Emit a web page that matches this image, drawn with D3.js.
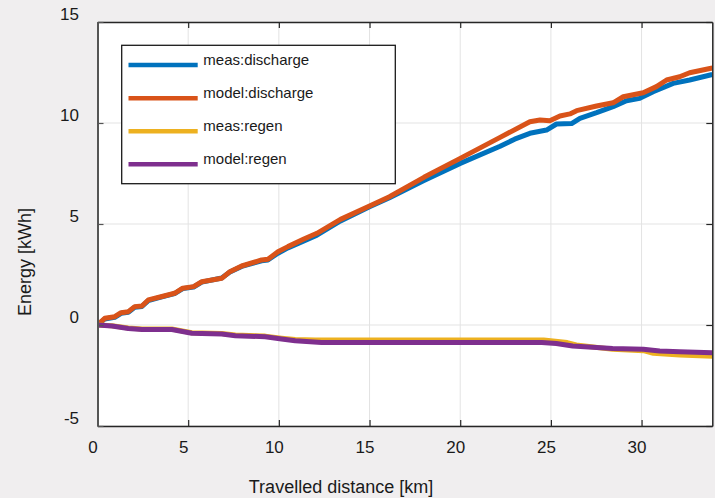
<!DOCTYPE html>
<html>
<head>
<meta charset="utf-8">
<script src="https://cdn.jsdelivr.net/npm/d3@7"></script>
<style>
  html, body { margin: 0; padding: 0; background: #f0eeef; }
  svg { display: block; }
  text { font-family: "Liberation Sans", Arial, Helvetica, sans-serif; fill: #1a1a1a; }
</style>
</head>
<body>
<svg id="chart" width="715" height="498"></svg>
<script>
// ---- data ----
const xTicks = [0, 5, 10, 15, 20, 25, 30];
const yTicks = [-5, 0, 5, 10, 15];
const xDomain = [0, 33.9];
const yDomain = [-5, 15];

const seriesNames = ["meas:discharge", "model:discharge", "meas:regen", "model:regen"];
const seriesColors = ["#0072BD", "#D95319", "#EDB120", "#7E2F8E"];

const measDischargeKm = [0, 0.4, 0.95, 1.3, 1.7, 2.05, 2.45, 2.8, 3.5, 4.25, 4.7, 5.3, 5.75, 6.85, 7.3, 7.95, 9.05, 9.4, 9.95, 10.5, 11.35, 12.1, 13.4, 15.0, 16.1, 18.0, 20.0, 22.2, 23.0, 23.84, 24.76, 25.31, 26.14, 26.6, 27.52, 28.43, 29.17, 29.9, 30.64, 31.74, 32.65, 33.9];
const measDischarge   = [0, 0.30, 0.38, 0.58, 0.63, 0.88, 0.92, 1.21, 1.38, 1.55, 1.80, 1.88, 2.12, 2.33, 2.62, 2.90, 3.18, 3.22, 3.55, 3.82, 4.15, 4.45, 5.15, 5.85, 6.30, 7.15, 8.00, 8.85, 9.20, 9.49, 9.65, 9.95, 9.97, 10.23, 10.51, 10.81, 11.10, 11.22, 11.55, 11.96, 12.13, 12.40];

const modelDischargeKm = [0, 0.4, 0.95, 1.3, 1.7, 2.05, 2.45, 2.8, 3.5, 4.25, 4.7, 5.3, 5.75, 6.85, 7.3, 7.95, 9.05, 9.4, 9.95, 10.5, 11.35, 12.1, 13.4, 15.0, 16.1, 18.0, 20.0, 22.2, 23.84, 24.4, 24.94, 25.5, 26.05, 26.42, 27.52, 28.43, 28.99, 30.09, 30.82, 31.38, 32.1, 32.65, 33.9];
const modelDischarge   = [0, 0.33, 0.41, 0.61, 0.66, 0.91, 0.94, 1.24, 1.40, 1.57, 1.82, 1.90, 2.14, 2.31, 2.64, 2.92, 3.22, 3.25, 3.63, 3.88, 4.24, 4.54, 5.23, 5.89, 6.35, 7.31, 8.25, 9.29, 10.06, 10.15, 10.11, 10.35, 10.45, 10.61, 10.84, 11.00, 11.30, 11.50, 11.80, 12.13, 12.29, 12.49, 12.72];

const measRegenKm = [0, 0.8, 1.7, 2.45, 4.1, 5.2, 6.85, 7.6, 9.25, 10.15, 10.9, 12.0, 24.6, 25.9, 26.4, 28.4, 30.1, 30.65, 32.1, 33.9];
const measRegen   = [0, -0.04, -0.15, -0.20, -0.20, -0.38, -0.42, -0.50, -0.55, -0.65, -0.72, -0.74, -0.74, -0.87, -0.99, -1.20, -1.27, -1.40, -1.49, -1.55];

const modelRegenKm = [0, 0.8, 1.7, 2.45, 4.1, 5.2, 6.85, 7.6, 9.25, 10.15, 10.9, 12.35, 24.5, 25.3, 26.2, 28.4, 30.1, 31.0, 32.1, 33.9];
const modelRegen   = [0, -0.05, -0.17, -0.22, -0.22, -0.41, -0.45, -0.53, -0.58, -0.69, -0.78, -0.87, -0.87, -0.92, -1.04, -1.16, -1.20, -1.29, -1.32, -1.37];

// ---- layout ----
const svg = d3.select("#chart");
const L = 97.5, R = 712.3, T = 22, B = 426;

const x = d3.scaleLinear().domain(xDomain).range([L, R]);
const y = d3.scaleLinear().domain(yDomain).range([B, T]);

// plot background
svg.append("rect").attr("x", L).attr("y", T).attr("width", R - L).attr("height", B - T).attr("fill", "#ffffff");

// grid
const grid = svg.append("g").attr("stroke", "#e3e3e3").attr("stroke-width", 1);
xTicks.forEach(t => grid.append("line").attr("x1", x(t)).attr("x2", x(t)).attr("y1", T).attr("y2", B));
yTicks.forEach(t => grid.append("line").attr("x1", L).attr("x2", R).attr("y1", y(t)).attr("y2", y(t)));

// clip
svg.append("clipPath").attr("id", "clip").append("rect")
  .attr("x", L).attr("y", T).attr("width", R - L).attr("height", B - T);

const line = d3.line().x(d => x(d[0])).y(d => y(d[1]));
const zip = (a, b) => a.map((v, i) => [v, b[i]]);
const seriesData = [
  zip(measDischargeKm, measDischarge),
  zip(modelDischargeKm, modelDischarge),
  zip(measRegenKm, measRegen),
  zip(modelRegenKm, modelRegen)
];

const lines = svg.append("g").attr("clip-path", "url(#clip)");
seriesData.forEach((d, i) => {
  lines.append("path").datum(d).attr("d", line)
    .attr("fill", "none").attr("stroke", seriesColors[i])
    .attr("stroke-width", 5).attr("stroke-linejoin", "round").attr("stroke-linecap", "butt");
});

// axes with inward ticks (MATLAB box style)
const tickLen = 6;
const axColor = "#262626";
const xAxisB = d3.axisBottom(x).tickValues(xTicks).tickSizeInner(-tickLen).tickSizeOuter(0).tickFormat("");
const xAxisT = d3.axisTop(x).tickValues(xTicks).tickSizeInner(-tickLen).tickSizeOuter(0).tickFormat("");
const yAxisL = d3.axisLeft(y).tickValues(yTicks).tickSizeInner(-tickLen).tickSizeOuter(0).tickFormat("");
const yAxisR = d3.axisRight(y).tickValues(yTicks).tickSizeInner(-tickLen).tickSizeOuter(0).tickFormat("");

function styleAxis(g, color, w) {
  g.selectAll("path").attr("stroke", color).attr("stroke-width", w);
  g.selectAll("line").attr("stroke", color).attr("stroke-width", 1.2);
}
styleAxis(svg.append("g").attr("transform", `translate(0,${T})`).call(xAxisT), axColor, 1.3);
styleAxis(svg.append("g").attr("transform", `translate(${R},0)`).call(yAxisR), axColor, 1.5);
styleAxis(svg.append("g").attr("transform", `translate(0,${B})`).call(xAxisB), axColor, 1.5);
styleAxis(svg.append("g").attr("transform", `translate(${L},0)`).call(yAxisL), "#555555", 2);

// tick labels
svg.append("g").selectAll("text").data(xTicks).join("text")
  .attr("x", d => x(d) - 4.5).attr("y", B + 27)
  .attr("text-anchor", "middle").attr("font-size", 17).text(d => d);
svg.append("g").selectAll("text").data(yTicks).join("text")
  .attr("x", 79).attr("y", d => y(d) - 2)
  .attr("text-anchor", "end").attr("font-size", 17).text(d => d);

// axis titles
svg.append("text").attr("x", 341).attr("y", 493)
  .attr("text-anchor", "middle").attr("font-size", 18).text("Travelled distance [km]");
svg.append("text").attr("transform", "translate(31,262) rotate(-90)")
  .attr("text-anchor", "middle").attr("font-size", 18).text("Energy [kWh]");

// legend
const lg = svg.append("g");
lg.append("rect").attr("x", 121.7).attr("y", 45.3).attr("width", 273.6).attr("height", 138.4)
  .attr("fill", "#ffffff").attr("stroke", "#1a1a1a").attr("stroke-width", 1.3);
const legendY = [65, 98.3, 131.2, 164.3];
seriesNames.forEach((n, i) => {
  lg.append("line").attr("x1", 128.5).attr("x2", 197.7).attr("y1", legendY[i]).attr("y2", legendY[i])
    .attr("stroke", seriesColors[i]).attr("stroke-width", 4.5);
  lg.append("text").attr("x", 203.3).attr("y", legendY[i]).attr("font-size", 15).text(n);
});
</script>
</body>
</html>
